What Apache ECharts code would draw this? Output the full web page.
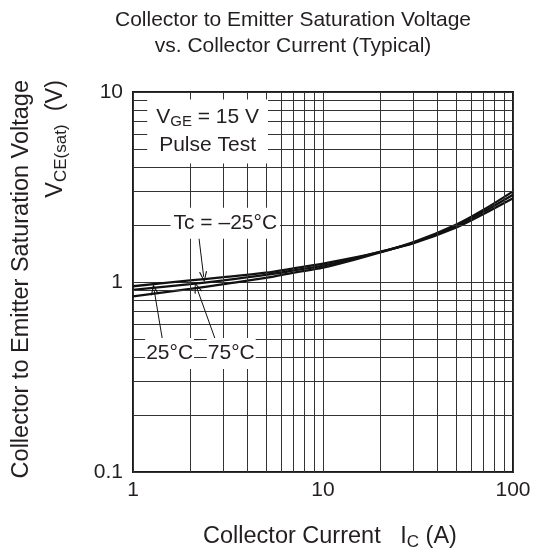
<!DOCTYPE html>
<html>
<head>
<meta charset="utf-8">
<script src="https://cdn.jsdelivr.net/npm/echarts@6/dist/echarts.min.js"></script>
<style>
html,body{margin:0;padding:0;background:#fff;}
#chart{width:536px;height:554px;}
</style>
</head>
<body>
<div id="chart"></div>
<script>
// ---- data ----
const currentA = [1, 2, 3, 5, 7, 10, 15, 20, 30, 50, 70, 100];
const vceTcMinus25 = [0.95, 1.02, 1.06, 1.12, 1.18, 1.25, 1.35, 1.44, 1.60, 1.93, 2.28, 2.76];
const vceTc25 = [0.91, 0.975, 1.02, 1.09, 1.15, 1.22, 1.34, 1.44, 1.61, 1.97, 2.34, 2.88];
const vceTc75 = [0.84, 0.92, 0.975, 1.05, 1.12, 1.19, 1.32, 1.43, 1.62, 2.00, 2.40, 3.00];
const xTickValues = [1, 10, 100];
const xTickLabels = ['1', '10', '100'];
const yTickValues = [0.1, 1, 10];
const yTickLabels = ['0.1', '1', '10'];
const xMinorGrid = [2, 3, 4, 5, 6, 7, 8, 9, 20, 30, 40, 50, 60, 70, 80, 90];
const yMinorGrid = [0.2, 0.3, 0.4, 0.5, 0.6, 0.7, 0.8, 0.9, 2, 3, 4, 5, 6, 7, 8, 9];
const titleLines = ['Collector to Emitter Saturation Voltage', 'vs. Collector Current (Typical)'];

const FONT = '"Liberation Sans", Arial, Helvetica, sans-serif';
const TXT = '#231f20';
const FS = 21;
const NFS = 23.5;

function pick(values, labels) {
  return function (v) {
    const i = values.findIndex(t => Math.abs(t - v) / t < 1e-6);
    return i >= 0 ? labels[i] : '';
  };
}
function pairs(xs, ys) { return xs.map((x, i) => [x, ys[i]]); }

const chevron = 'path://M0,0 L4,10 L3,10.6 L0,2.6 L-3,10.6 L-4,10 Z';

const curveStyle = { color: '#111', width: 2.3 };

const chart = echarts.init(document.getElementById('chart'), null, { renderer: 'canvas' });
const option = {
  animation: false,
  backgroundColor: '#fff',
  grid: { left: 133, right: 23, top: 92, bottom: 82, show: true, borderColor: '#1a1a1a', borderWidth: 2, backgroundColor: 'transparent' },
  xAxis: {
    type: 'log', logBase: 10, min: 1, max: 100,
    axisLine: { show: false }, axisTick: { show: false },
    splitLine: { show: true, lineStyle: { color: '#333', width: 1 } },
    axisLabel: { fontSize: FS, color: TXT, fontFamily: FONT, margin: 8, formatter: pick(xTickValues, xTickLabels) }
  },
  yAxis: {
    type: 'log', logBase: 10, min: 0.1, max: 10,
    axisLine: { show: false }, axisTick: { show: false },
    splitLine: { show: true, lineStyle: { color: '#333', width: 1 } },
    axisLabel: { fontSize: FS, color: TXT, fontFamily: FONT, margin: 10, formatter: pick(yTickValues, yTickLabels) }
  },
  graphic: [
    { type: 'text', x: 293, y: 33, silent: true,
      style: { text: titleLines.join('\n'), font: FS + 'px ' + FONT, fill: TXT, textAlign: 'center', textVerticalAlign: 'middle', lineHeight: 26 } },
    { type: 'text', x: 22, y: 80, rotation: Math.PI / 2, silent: true,
      style: { text: 'Collector to Emitter Saturation Voltage', font: NFS + 'px ' + FONT, fill: TXT, textAlign: 'right', textVerticalAlign: 'middle' } },
    { type: 'text', x: 56, y: 80, rotation: Math.PI / 2, silent: true,
      style: { text: '{a|V}{s|CE(sat)}{a|  (V)}', textAlign: 'right', textVerticalAlign: 'middle', fill: TXT,
        rich: { a: { fontSize: NFS, fontFamily: FONT, color: TXT, lineHeight: 26 }, s: { fontSize: 17, fontFamily: FONT, color: TXT, padding: [10, 0, 0, 0] } } } },
    { type: 'text', x: 330, y: 537, silent: true,
      style: { text: '{a|Collector Current   I}{s|C}{a| (A)}', textAlign: 'center', textVerticalAlign: 'middle', fill: TXT,
        rich: { a: { fontSize: NFS, fontFamily: FONT, color: TXT, lineHeight: 26 }, s: { fontSize: 17, fontFamily: FONT, color: TXT, padding: [10, 0, 0, 0] } } } }
  ],
  series: [
    {
      name: 'grid', type: 'line', data: [], silent: true, z: 1,
      markLine: {
        silent: true, animation: false, symbol: ['none', 'none'],
        label: { show: false },
        lineStyle: { type: 'solid', color: '#333', width: 1 },
        emphasis: { disabled: true },
        data: xMinorGrid.map(v => ({ xAxis: v })).concat(yMinorGrid.map(v => ({ yAxis: v })))
      }
    },
    { name: 'Tc = -25°C', type: 'line', smooth: 0.3, symbol: 'none', silent: true, z: 3, lineStyle: curveStyle, data: pairs(currentA, vceTcMinus25) },
    { name: 'Tc = 25°C', type: 'line', smooth: 0.3, symbol: 'none', silent: true, z: 3, lineStyle: curveStyle, data: pairs(currentA, vceTc25) },
    { name: 'Tc = 75°C', type: 'line', smooth: 0.3, symbol: 'none', silent: true, z: 3, lineStyle: curveStyle, data: pairs(currentA, vceTc75) },
    {
      name: 'notes', type: 'line', data: [], silent: true, z: 5,
      markPoint: {
        silent: true, animation: false, symbol: 'rect', symbolSize: 1, itemStyle: { color: 'rgba(0,0,0,0)' },
        label: { show: true, position: 'inside', color: TXT, fontFamily: FONT, fontSize: FS, backgroundColor: '#fff' },
        data: [
          { coord: [2.47, 6.2], label: { formatter: '{a|V}{s|GE}{a| = 15 V}\n{a|Pulse Test}', padding: [4, 9, 4, 9],
              rich: { a: { fontSize: FS, fontFamily: FONT, color: TXT, lineHeight: 28 }, s: { fontSize: 15, fontFamily: FONT, color: TXT, padding: [9, 0, 0, 0] } } } },
          { coord: [3.06, 2.04], label: { formatter: 'Tc = \u201325\u00b0C', padding: [5, 3, 5, 3] } },
          { coord: [1.558, 0.42], label: { formatter: '25\u00b0C', padding: [5, 1, 5, 1] } },
          { coord: [3.29, 0.42], label: { formatter: '75\u00b0C', padding: [5, 1, 5, 1] } }
        ]
      },
      markLine: {
        silent: true, animation: false,
        symbol: ['none', chevron], symbolSize: [8, 11],
        label: { show: false },
        lineStyle: { type: 'solid', color: '#111', width: 1 },
        emphasis: { disabled: true },
        data: [
          [{ coord: [2.216, 1.757] }, { coord: [2.355, 1.065] }],
          [{ coord: [1.431, 0.492] }, { coord: [1.291, 0.913] }],
          [{ coord: [2.724, 0.492] }, { coord: [2.163, 0.936] }]
        ]
      }
    }
  ]
};
chart.setOption(option);
</script>
</body>
</html>
